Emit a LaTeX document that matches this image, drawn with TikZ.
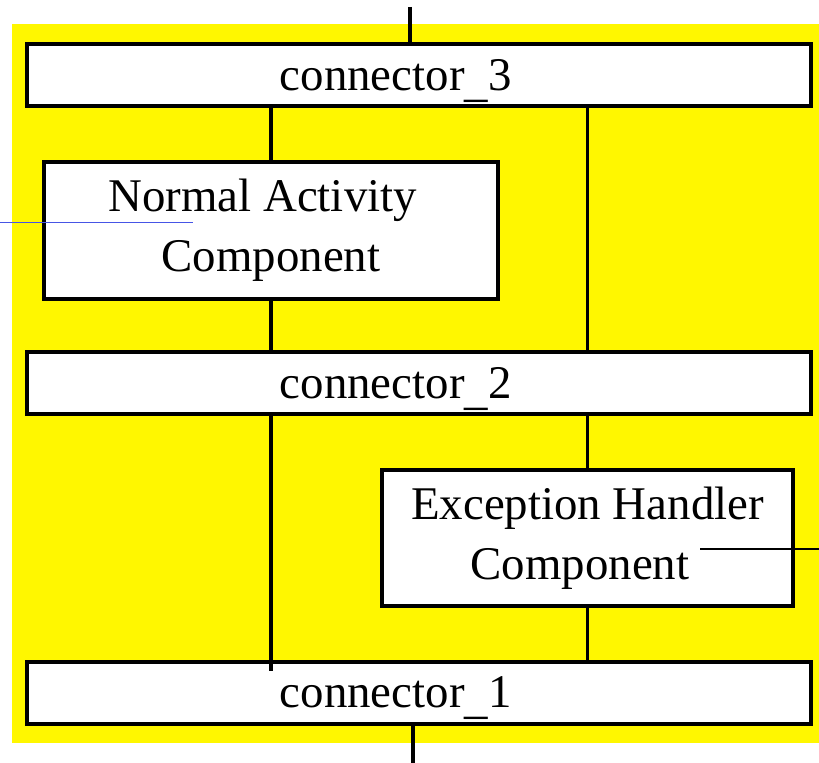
\documentclass[tikz,border=0pt]{standalone}
\usepackage{fontspec}
\setmainfont{Liberation Serif}
\usepackage{tikz}
\usetikzlibrary{calc}
\definecolor{bgyellow}{RGB}{255,247,0}
\definecolor{linkblue}{RGB}{70,85,230}
\newcommand{\lowbar}{\smash{\raisebox{-0.13em}{\_}}}
\tikzset{
	connnode/.style={rectangle, draw=black, fill=white, line width=0.12cm, minimum width=23.52cm, minimum height=1.86cm, inner sep=0pt},
	compnode/.style={rectangle, draw=black, fill=white, line width=0.12cm, align=center, inner sep=0pt},
	link/.style={line width=0.11cm}
}

\begin{document}
\begin{tikzpicture}[x=0.03cm, y=-0.03cm, font=\fontsize{40}{51}\selectfont]
	\useasboundingbox (0,0) rectangle (819,763);
	\fill[bgyellow] (12,24) rectangle (819,743);
	
	\node[connnode] at (419,75) (C3)    {connector\lowbar3\hspace*{1.4cm}};
	\node[compnode, minimum width=13.62cm, minimum height=4.11cm] at (271,230.5) (NA)    {Normal Activity\hspace*{0.5cm}\\Component};
	\node[connnode] at (419,383) (C2)    {connector\lowbar2\hspace*{1.4cm}};
	\node[compnode, minimum width=12.33cm, minimum height=4.08cm] at (587.5,538) (EH)    {Exception Handler\\Component\hspace*{0.45cm}};
	\node[connnode] at (419,692.5) (C1)    {connector\lowbar1\hspace*{1.4cm}};
	
	\coordinate (In) at (410,7);
	\coordinate (Out) at (413,763);
	\draw[link] (In) -- (In |- C3.north); 
	\draw[link] (C3.south -| NA.north) -- ([yshift=-0.09cm]NA.north); 
	\draw[link] (C3.south -| EH.north) -- (C2.north -| EH.north); 
	\draw[link] (NA.south) -- (C2.north -| NA.south); 
	\draw[link] (C2.south -| EH.north) -- (EH.north); 
	\draw[link] (C2.south -| NA.south) -- ([yshift=-0.33cm]C1.north -| NA.south); 
	\draw[link] (EH.south) -- (C1.north -| EH.south); 
	\draw[link] (C1.south -| Out) -- (Out); 
	
	\coordinate (BlueA) at (0,222);
	\coordinate (BlueB) at (193,222);
	\draw[linkblue, line width=0.8pt] (BlueA) -- (BlueB);
	\coordinate (HandA) at (700,549);
	\coordinate (HandB) at (819,549);
	\draw[line width=1pt] (HandA) -- (HandB);
\end{tikzpicture}
\end{document}
